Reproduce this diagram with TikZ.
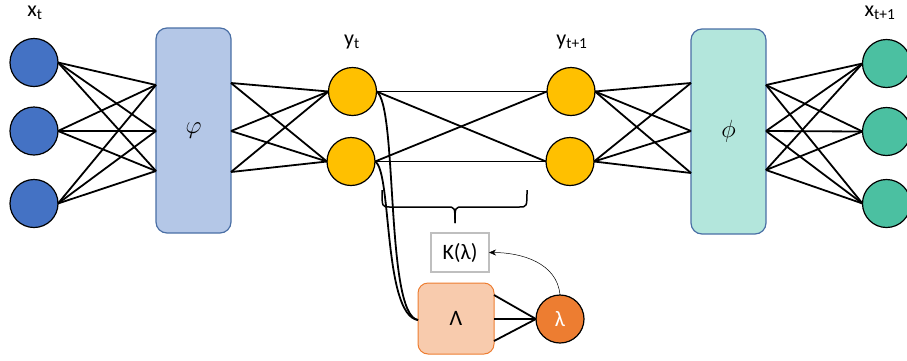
\documentclass[tikz,border=0pt]{standalone}
\usepackage{fontspec}
\setmainfont{Carlito}
\usetikzlibrary{arrows.meta}
\definecolor{xblue}{HTML}{4472C4}
\definecolor{boxblue}{HTML}{B4C7E7}
\definecolor{boxedge}{HTML}{4A6FA5}
\definecolor{boxteal}{HTML}{B3E6DC}
\definecolor{ygold}{HTML}{FFC000}
\definecolor{xgreen}{HTML}{4BC0A1}
\definecolor{lamfill}{HTML}{F8CBAD}
\definecolor{lamedge}{HTML}{ED7D31}
\definecolor{kgray}{HTML}{BFBFBF}
\tikzset{
  neuron/.style={circle, draw=black, line width=1.2pt, minimum size=48pt, inner sep=0pt, outer sep=0pt},
  ebox/.style={draw=boxedge, line width=1.2pt, rounded corners=11pt, minimum width=75pt, minimum height=205pt, inner sep=0pt, outer sep=0pt},
  wire/.style={line width=1.8pt, draw=black},
  lbl/.style={inner sep=0pt, font=\fontsize{22}{26}\selectfont},
  mathlbl/.style={font=\fontsize{28}{32}\selectfont},
}
\begin{document}
\begin{tikzpicture}[x=1pt, y=-1pt]
\useasboundingbox (0,0) rectangle (907,360);
% input neurons
\node[neuron, fill=xblue] (x1) at (34,62.5) {};
\node[neuron, fill=xblue] (x2) at (34,131) {};
\node[neuron, fill=xblue] (x3) at (34,203.5) {};
\node[lbl] (xt) at (35,13) {x\textsubscript{t}};
% encoder
\node[ebox, fill=boxblue, mathlbl] (enc) at (193.5,130.5) {$\varphi$};
\coordinate (el1) at (156,85);
\coordinate (el2) at (156,131);
\coordinate (el3) at (156,171);
\coordinate (er1) at (231,83);
\coordinate (er2) at (231,131);
\coordinate (er3) at (231,172);
% latent neurons
\node[neuron, fill=ygold] (ya) at (352.5,91.5) {};
\node[neuron, fill=ygold] (yb) at (351,161.5) {};
\node[neuron, fill=ygold] (yc) at (571,91.5) {};
\node[neuron, fill=ygold] (yd) at (570,161.5) {};
\node[lbl] (ytl) at (352,42) {y\textsubscript{t}};
\node[lbl] (yt1l) at (572,42) {y\textsubscript{t+1}};
% decoder
\node[ebox, fill=boxteal, mathlbl] (dec) at (728.5,131.5) {$\phi$};
\coordinate (dl1) at (691,83);
\coordinate (dl2) at (691,131);
\coordinate (dl3) at (691,173);
\coordinate (dr1) at (766,85);
\coordinate (dr2) at (766,131);
\coordinate (dr3) at (766,170);
% output neurons
\node[neuron, fill=xgreen] (z1) at (886.5,63.5) {};
\node[neuron, fill=xgreen] (z2) at (886.5,131.5) {};
\node[neuron, fill=xgreen] (z3) at (886.5,203.5) {};
\node[lbl] (xt1) at (880,13) {x\textsubscript{t+1}};
% wires
\foreach \i in {1,2,3}{\foreach \j in {1,2,3}{\draw[wire] (x\i.east) -- (el\j);}}
\foreach \j in {1,2,3}{\draw[wire] (er\j) -- (ya.west); \draw[wire] (er\j) -- (yb.west);}
\draw[wire] (ya.east) -- (yc.west);
\draw[wire] (ya.east) -- (yd.west);
\draw[wire] (yb.east) -- (yc.west);
\draw[wire] (yb.east) -- (yd.west);
\foreach \j in {1,2,3}{\draw[wire] (yc.east) -- (dl\j); \draw[wire] (yd.east) -- (dl\j);}
\foreach \i in {1,2,3}{\foreach \j in {1,2,3}{\draw[wire] (dr\j) -- (z\i.west);}}
% brace
\coordinate (bl) at (382,190);
\coordinate (br) at (527,190);
\coordinate (bt) at (455,223);
\draw[line width=1.5pt, line join=round] (bl) .. controls (382,207) .. (390,207) -- (447,207) .. controls (455,207) .. (bt);
\draw[line width=1.5pt, line join=round] (br) .. controls (527,207) .. (519,207) -- (463,207) .. controls (455,207) .. (bt);
% Lambda block
\node[draw=lamedge, fill=lamfill, line width=1pt, rounded corners=10pt, minimum width=76pt, minimum height=71pt, inner sep=0pt, outer sep=0pt, font=\fontsize{22}{26}\selectfont] (L) at (456,318.5) {Λ};
\coordinate (lr1) at (494,295);
\coordinate (lr2) at (494,319);
\coordinate (lr3) at (494,341);
\coordinate (ll) at (418,320);
\node[neuron, fill=lamedge, text=white, font=\fontsize{22}{26}\selectfont] (lam) at (560,319) {λ};
\foreach \j in {1,2,3}{\draw[wire] (lam.west) -- (lr\j);}
\node[draw=kgray, fill=white, line width=1.3pt, minimum width=58pt, minimum height=39pt, inner sep=0pt, outer sep=0pt, font=\fontsize{22}{26}\selectfont] (K) at (460,252.5) {K(λ)};
\draw[line width=0.5pt, -{Stealth[length=7pt, width=6pt]}] (lam.north) to[out=95, in=0] (K.east);
% curves from latent to Lambda
\draw[wire] (ya.east) .. controls (398,105) and (385,315) .. (ll);
\draw[wire] (yb.east) .. controls (392,170) and (383,315) .. (ll);
\end{tikzpicture}
\end{document}
